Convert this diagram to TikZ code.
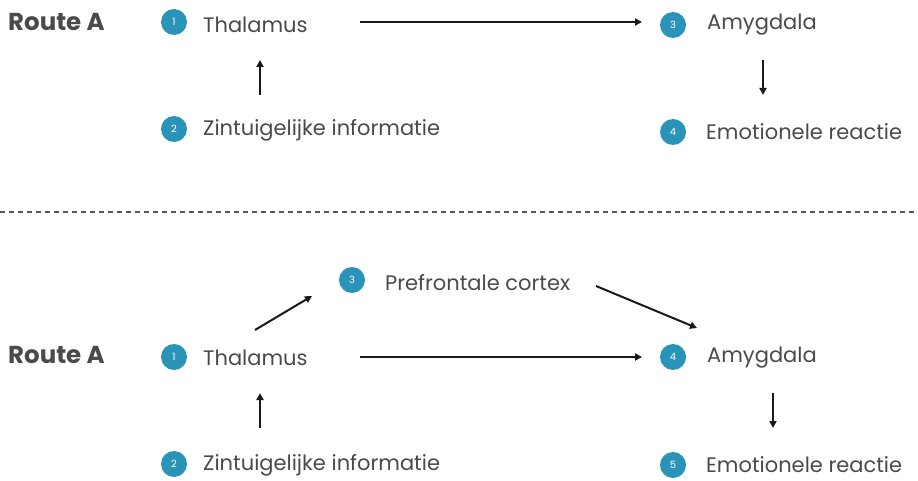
\documentclass[tikz,border=0pt]{standalone}
\usepackage{fontspec}
\setmainfont{Poppins}
\usetikzlibrary{arrows.meta}
\definecolor{txt}{HTML}{4A4A4A}
\definecolor{dot}{HTML}{2A93B8}
\tikzset{
  num/.style={circle, fill=dot, minimum size=26pt, inner sep=0pt, text=white, font=\fontsize{10}{10}\selectfont},
  lbl/.style={anchor=west, inner sep=0pt, text=txt, font=\fontsize{21}{21}\selectfont},
  route/.style={anchor=west, inner sep=0pt, text=txt, font=\fontsize{24.5}{24.5}\selectfont\bfseries},
  arr/.style={line width=2pt, -{Triangle[length=7pt,width=7pt]}, draw=black!90},
  sep/.style={line width=1.5pt, draw=black!65, dash pattern=on 5pt off 4pt}
}
\begin{document}
\begin{tikzpicture}[x=1pt,y=-1pt]
\useasboundingbox (0,0) rectangle (918,481);
% top
\node[route] (ra1) at (8,22) {Route A};
\node[num] (n1t) at (174,22) {1};
\node[lbl] (l1t) at (203,25) {Thalamus};
\node[num] (n2t) at (174,129) {2};
\node[lbl] (l2t) at (203,130) {Zintuigelijke informatie};
\node[num] (n3t) at (673,25) {3};
\node[lbl] (l3t) at (707,25) {Amygdala};
\node[num] (n4t) at (673,132) {4};
\node[lbl] (l4t) at (706,132) {Emotionele reactie};
\coordinate (a1s) at (360,22);
\coordinate (a1e) at (642,22);
\coordinate (a2s) at (260,95);
\coordinate (a2e) at (260,60);
\coordinate (a3s) at (763,60);
\coordinate (a3e) at (763,95);
\draw[arr] (a1s) -- (a1e);
\draw[arr] (a2s) -- (a2e);
\draw[arr] (a3s) -- (a3e);
% separator
\coordinate (sl) at (0,212);
\coordinate (sr) at (918,212);
\draw[sep] (sl) -- (sr);
% bottom
\node[route] (ra2) at (8,355) {Route A};
\node[num] (n1b) at (174,357) {1};
\node[lbl] (l1b) at (203,358) {Thalamus};
\node[num] (n2b) at (174,464) {2};
\node[lbl] (l2b) at (203,465) {Zintuigelijke informatie};
\node[num] (n3b) at (352,280) {3};
\node[lbl] (l3b) at (385,283) {Prefrontale cortex};
\node[num] (n4b) at (673,357) {4};
\node[lbl] (l4b) at (707,358) {Amygdala};
\node[num] (n5b) at (673,465) {5};
\node[lbl] (l5b) at (706,465) {Emotionele reactie};
\coordinate (b1s) at (255,330);
\coordinate (b1e) at (312,296);
\coordinate (b2s) at (596,286);
\coordinate (b2e) at (697,328);
\coordinate (b3s) at (360,357);
\coordinate (b3e) at (642,357);
\coordinate (b4s) at (260,428);
\coordinate (b4e) at (260,393);
\coordinate (b5s) at (773,393);
\coordinate (b5e) at (773,428);
\draw[arr] (b1s) -- (b1e);
\draw[arr] (b2s) -- (b2e);
\draw[arr] (b3s) -- (b3e);
\draw[arr] (b4s) -- (b4e);
\draw[arr] (b5s) -- (b5e);
\end{tikzpicture}
\end{document}
